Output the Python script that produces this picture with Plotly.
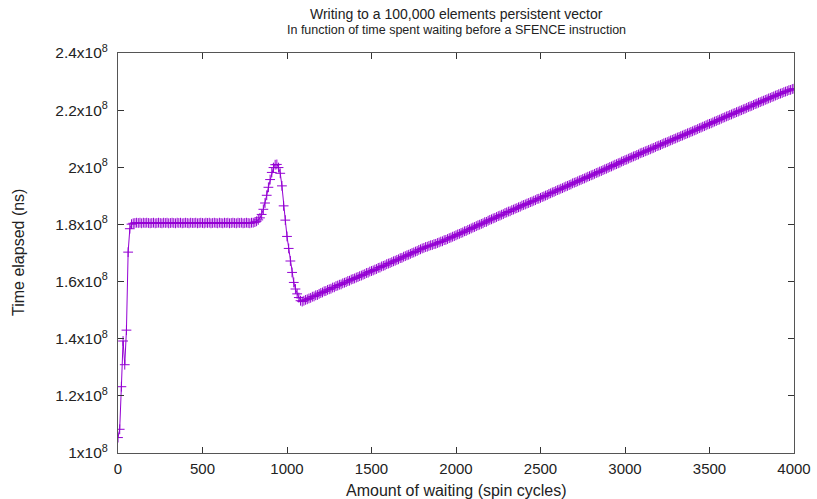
import plotly.graph_objects as go

# Amount of waiting (spin cycles): one sample every 10 cycles, 0..4000
cycles = list(range(0, 4001, 10))

# Time elapsed, in units of 1e8 ns (10 samples per row)
time_1e8 = [
    1.054, 1.083, 1.232, 1.392, 1.309, 1.430, 1.703, 1.785, 1.801, 1.804,   # 0
    1.805, 1.806, 1.805, 1.806, 1.804, 1.806, 1.805, 1.806, 1.805, 1.804,   # 100
    1.805, 1.806, 1.804, 1.805, 1.806, 1.805, 1.804, 1.806, 1.805, 1.806,   # 200
    1.804, 1.805, 1.806, 1.805, 1.804, 1.806, 1.805, 1.806, 1.804, 1.805,   # 300
    1.806, 1.805, 1.804, 1.806, 1.805, 1.805, 1.806, 1.804, 1.805, 1.806,   # 400
    1.805, 1.804, 1.806, 1.805, 1.806, 1.804, 1.805, 1.806, 1.805, 1.804,   # 500
    1.806, 1.805, 1.804, 1.806, 1.805, 1.806, 1.804, 1.805, 1.806, 1.805,   # 600
    1.804, 1.806, 1.805, 1.806, 1.804, 1.805, 1.806, 1.805, 1.804, 1.806,   # 700
    1.806, 1.808, 1.811, 1.816, 1.823, 1.835, 1.853, 1.875, 1.902, 1.930,   # 800
    1.957, 1.982, 1.999, 2.009, 2.010, 1.999, 1.979, 1.935, 1.865, 1.815,   # 900
    1.758, 1.716, 1.672, 1.632, 1.597, 1.574, 1.557, 1.544, 1.533, 1.530,   # 1000
    1.533, 1.536, 1.538, 1.541, 1.543, 1.547, 1.548, 1.552, 1.553, 1.557,   # 1100
    1.560, 1.562, 1.566, 1.567, 1.571, 1.573, 1.575, 1.579, 1.580, 1.584,   # 1200
    1.586, 1.589, 1.590, 1.594, 1.596, 1.598, 1.602, 1.603, 1.607, 1.609,   # 1300
    1.611, 1.614, 1.616, 1.619, 1.621, 1.624, 1.626, 1.630, 1.631, 1.635,   # 1400
    1.637, 1.639, 1.642, 1.644, 1.648, 1.649, 1.653, 1.655, 1.657, 1.661,   # 1500
    1.663, 1.665, 1.668, 1.671, 1.673, 1.676, 1.678, 1.682, 1.683, 1.687,   # 1600
    1.689, 1.692, 1.694, 1.697, 1.700, 1.702, 1.705, 1.707, 1.711, 1.713,   # 1700
    1.716, 1.718, 1.721, 1.722, 1.725, 1.727, 1.728, 1.731, 1.732, 1.735,   # 1800
    1.737, 1.740, 1.741, 1.745, 1.746, 1.749, 1.752, 1.754, 1.757, 1.759,   # 1900
    1.762, 1.765, 1.767, 1.770, 1.772, 1.776, 1.777, 1.781, 1.783, 1.786,   # 2000
    1.789, 1.791, 1.794, 1.797, 1.799, 1.802, 1.804, 1.808, 1.809, 1.813,   # 2100
    1.816, 1.818, 1.821, 1.823, 1.826, 1.829, 1.831, 1.834, 1.836, 1.840,   # 2200
    1.842, 1.845, 1.846, 1.850, 1.852, 1.855, 1.857, 1.860, 1.862, 1.866,   # 2300
    1.868, 1.870, 1.873, 1.875, 1.878, 1.880, 1.883, 1.885, 1.889, 1.890,   # 2400
    1.893, 1.896, 1.898, 1.901, 1.903, 1.907, 1.909, 1.912, 1.914, 1.917,   # 2500
    1.920, 1.922, 1.925, 1.927, 1.930, 1.933, 1.935, 1.938, 1.940, 1.944,   # 2600
    1.946, 1.948, 1.951, 1.954, 1.956, 1.959, 1.961, 1.964, 1.967, 1.969,   # 2700
    1.972, 1.974, 1.977, 1.980, 1.982, 1.985, 1.987, 1.990, 1.993, 1.995,   # 2800
    1.998, 2.001, 2.003, 2.006, 2.009, 2.011, 2.014, 2.016, 2.020, 2.022,   # 2900
    2.025, 2.027, 2.030, 2.033, 2.035, 2.038, 2.040, 2.043, 2.045, 2.049,   # 3000
    2.051, 2.053, 2.056, 2.058, 2.061, 2.063, 2.066, 2.068, 2.071, 2.074,   # 3100
    2.076, 2.078, 2.081, 2.084, 2.086, 2.088, 2.091, 2.094, 2.096, 2.099,   # 3200
    2.101, 2.104, 2.106, 2.109, 2.111, 2.114, 2.116, 2.119, 2.121, 2.124,   # 3300
    2.126, 2.129, 2.131, 2.134, 2.137, 2.139, 2.142, 2.144, 2.147, 2.150,   # 3400
    2.152, 2.154, 2.157, 2.160, 2.162, 2.165, 2.167, 2.170, 2.173, 2.175,   # 3500
    2.178, 2.180, 2.183, 2.185, 2.188, 2.190, 2.193, 2.195, 2.198, 2.200,   # 3600
    2.203, 2.205, 2.208, 2.211, 2.213, 2.215, 2.218, 2.221, 2.223, 2.226,   # 3700
    2.228, 2.231, 2.233, 2.236, 2.238, 2.241, 2.243, 2.246, 2.248, 2.251,   # 3800
    2.253, 2.256, 2.258, 2.260, 2.263, 2.265, 2.267, 2.270, 2.271, 2.274,   # 3900
    2.275,                                                                  # 4000
]
time_ns = [v * 1e8 for v in time_1e8]

y_tick_vals = [1.0e8, 1.2e8, 1.4e8, 1.6e8, 1.8e8, 2.0e8, 2.2e8, 2.4e8]
y_tick_text = ["1x10<sup>8</sup>", "1.2x10<sup>8</sup>", "1.4x10<sup>8</sup>",
               "1.6x10<sup>8</sup>", "1.8x10<sup>8</sup>", "2x10<sup>8</sup>",
               "2.2x10<sup>8</sup>", "2.4x10<sup>8</sup>"]
x_tick_vals = [0, 500, 1000, 1500, 2000, 2500, 3000, 3500, 4000]

PURPLE = "#9400d3"
FONT = "Liberation Sans, Arial, sans-serif"
TXT = "#222222"

fig = go.Figure()
fig.add_trace(go.Scatter(
    x=cycles, y=time_ns, mode="lines+markers",
    line=dict(color=PURPLE, width=1),
    marker=dict(symbol="cross-thin", size=7, color=PURPLE,
                line=dict(color=PURPLE, width=1)),
    showlegend=False, hoverinfo="skip",
))

axis_common = dict(
    showline=True, linecolor="#555555", linewidth=1, mirror="ticks",
    ticks="inside", ticklen=6, tickcolor="#333333", tickwidth=1,
    showgrid=False, zeroline=False, automargin=False,
    tickfont=dict(family=FONT, size=15, color=TXT),
)

fig.update_xaxes(range=[0, 4000], tickvals=x_tick_vals, ticklabelstandoff=2,
                 **axis_common)
fig.update_yaxes(range=[1.0e8, 2.4e8], tickvals=y_tick_vals, ticktext=y_tick_text,
                 ticklabelstandoff=6, **axis_common)
fig.update_yaxes(tickfont=dict(family=FONT, size=15.5, color=TXT))

# Plot area: x 118..794 px, y 53..453 px
PW, PH = 676.0, 400.0
TOP, LEFT = 53.0, 118.0

def py(pix):
    return (TOP + PH - pix) / PH

def px(pix):
    return (pix - LEFT) / PW

fig.update_layout(
    width=817, height=499,
    margin=dict(l=118, r=23, t=53, b=46),
    paper_bgcolor="white", plot_bgcolor="white",
    font=dict(family=FONT, color=TXT),
    annotations=[
        dict(text="Writing to a 100,000 elements persistent vector",
             xref="paper", yref="paper", x=0.5, y=py(14), yanchor="middle",
             showarrow=False, font=dict(family=FONT, size=14, color=TXT)),
        dict(text="In function of time spent waiting before a SFENCE instruction",
             xref="paper", yref="paper", x=0.5, y=py(30), yanchor="middle",
             showarrow=False, font=dict(family=FONT, size=12.5, color=TXT)),
        dict(text="Amount of waiting (spin cycles)",
             xref="paper", yref="paper", x=0.5, y=py(490), yanchor="middle",
             showarrow=False, font=dict(family=FONT, size=16, color=TXT)),
        dict(text="Time elapsed (ns)", textangle=-90,
             xref="paper", yref="paper", x=px(18), y=py(253), xanchor="center",
             yanchor="middle", showarrow=False,
             font=dict(family=FONT, size=16, color=TXT)),
    ],
)

fig.write_html("out.html", config={"displayModeBar": False, "staticPlot": True},
               post_script="document.body.style.margin='0';document.body.style.overflow='hidden';")
